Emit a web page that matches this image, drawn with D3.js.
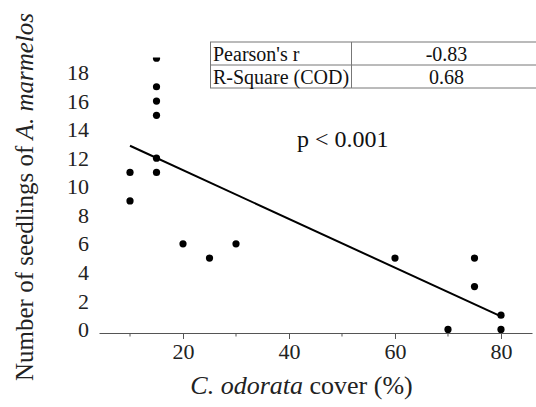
<!DOCTYPE html>
<html>
<head>
  <meta charset="utf-8">
  <script src="https://d3js.org/d3.v7.min.js"></script>
</head>
<body style="margin:0; background:#fff">
  <svg width="536" height="407" font-family="Liberation Serif, Times New Roman, Tinos, FreeSerif" style="display:block; font-family: 'Liberation Serif', 'Times New Roman', Tinos, FreeSerif"></svg>
  <script>
    // data
    const cover    = [10, 10, 15, 15, 15, 15, 15, 15, 20, 25, 30, 60, 70, 75, 75, 80, 80];
    const seedlings = [11, 9, 19, 17, 16, 15, 12, 11, 6, 5, 6, 5, 0, 5, 3, 1, 0];
    const xTicks = [20, 40, 60, 80];
    const xMinor = [10, 30, 50, 70];
    const yTicks = [0, 2, 4, 6, 8, 10, 12, 14, 16, 18];
    const statLabels = ["Pearson's r", "R-Square (COD)"];
    const statValues = ["-0.83", "0.68"];

    const FONT = "'Liberation Serif', 'Times New Roman', Tinos, FreeSerif";
    const svg = d3.select("svg");
    const pts = cover.map((c, i) => ({ x: c, y: seedlings[i] }));

    // put a serif face on every text node
    const label = (sel) => sel.attr("font-family", FONT).style("font-family", FONT);

    const x = d3.scaleLinear().domain([4.15, 85.85]).range([99, 532]);
    const y = d3.scaleLinear().domain([-0.25, 19.05]).range([333, 57.5]);

    svg.append("clipPath").attr("id", "plot")
      .append("rect").attr("x", 95).attr("y", 57.5).attr("width", 441).attr("height", 290);

    // x axis
    const xAxis = svg.append("g").attr("transform", "translate(0,333)")
      .call(d3.axisBottom(x).tickValues(xTicks).tickSize(6).tickSizeOuter(0).tickPadding(4));
    label(xAxis);
    xAxis.select(".domain").attr("stroke", "#555").attr("stroke-width", 1.2);
    xAxis.selectAll(".tick line").attr("stroke", "#555");
    label(xAxis.selectAll("text").attr("font-size", 22).attr("fill", "#222"));
    xAxis.selectAll(".minor").data(xMinor).enter().append("line")
      .attr("class", "minor")
      .attr("x1", d => x(d)).attr("x2", d => x(d))
      .attr("y1", 0).attr("y2", 3.5).attr("stroke", "#555");

    // y tick labels only (no axis line)
    svg.append("g").selectAll("text").data(yTicks).enter().append("text")
      .attr("x", 89).attr("y", d => y(d)).attr("dy", "0.35em")
      .attr("text-anchor", "end").attr("font-size", 22).attr("fill", "#222")
      .call(label)
      .text(d => d);

    // regression line
    const mx = d3.mean(pts, d => d.x), my = d3.mean(pts, d => d.y);
    const sxy = d3.sum(pts, d => (d.x - mx) * (d.y - my));
    const sxx = d3.sum(pts, d => (d.x - mx) ** 2);
    const slope = sxy / sxx, icpt = my - slope * mx;
    const ext = d3.extent(cover);
    svg.append("line")
      .attr("x1", x(ext[0])).attr("y1", y(icpt + slope * ext[0]))
      .attr("x2", x(ext[1])).attr("y2", y(icpt + slope * ext[1]))
      .attr("stroke", "#000").attr("stroke-width", 2);

    // points
    svg.append("g").attr("clip-path", "url(#plot)")
      .selectAll("circle").data(pts).enter().append("circle")
      .attr("cx", d => x(d.x)).attr("cy", d => y(d.y)).attr("r", 3.6)
      .attr("fill", "#000");

    // stats table
    const tbl = svg.append("g");
    const rowY = [42, 65, 88];
    tbl.append("rect").attr("x", 210.5).attr("y", rowY[0]).attr("width", 340).attr("height", rowY[2] - rowY[0])
      .attr("fill", "none").attr("stroke", "#777");
    tbl.append("line").attr("x1", 210.5).attr("x2", 536).attr("y1", rowY[1]).attr("y2", rowY[1]).attr("stroke", "#777");
    tbl.append("line").attr("x1", 351.5).attr("x2", 351.5).attr("y1", rowY[0]).attr("y2", rowY[2]).attr("stroke", "#777");
    statLabels.forEach((s, i) => {
      tbl.append("text").attr("x", 213).attr("y", rowY[i + 1] - 4)
        .attr("font-size", 20).attr("fill", "#111").call(label).text(s);
      tbl.append("text").attr("x", 446.5).attr("y", rowY[i + 1] - 4)
        .attr("text-anchor", "middle").attr("font-size", 20).attr("fill", "#111")
        .call(label).text(statValues[i]);
    });

    svg.append("text").attr("x", 297).attr("y", 147)
      .attr("font-size", 24).attr("fill", "#111").call(label).text("p < 0.001");

    // axis titles
    const xt = svg.append("text").attr("x", 301.5).attr("y", 394)
      .attr("text-anchor", "middle").attr("font-size", 26).attr("fill", "#222")
      .call(label);
    xt.append("tspan").attr("font-style", "italic").text("C. odorata");
    xt.append("tspan").text(" cover (%)");

    const yt = svg.append("text").attr("transform", "translate(33,197) rotate(-90)")
      .attr("text-anchor", "middle").attr("font-size", 25).attr("fill", "#222")
      .call(label);
    yt.append("tspan").text("Number of seedlings of ");
    yt.append("tspan").attr("font-style", "italic").text("A. marmelos");
  </script>
</body>
</html>
